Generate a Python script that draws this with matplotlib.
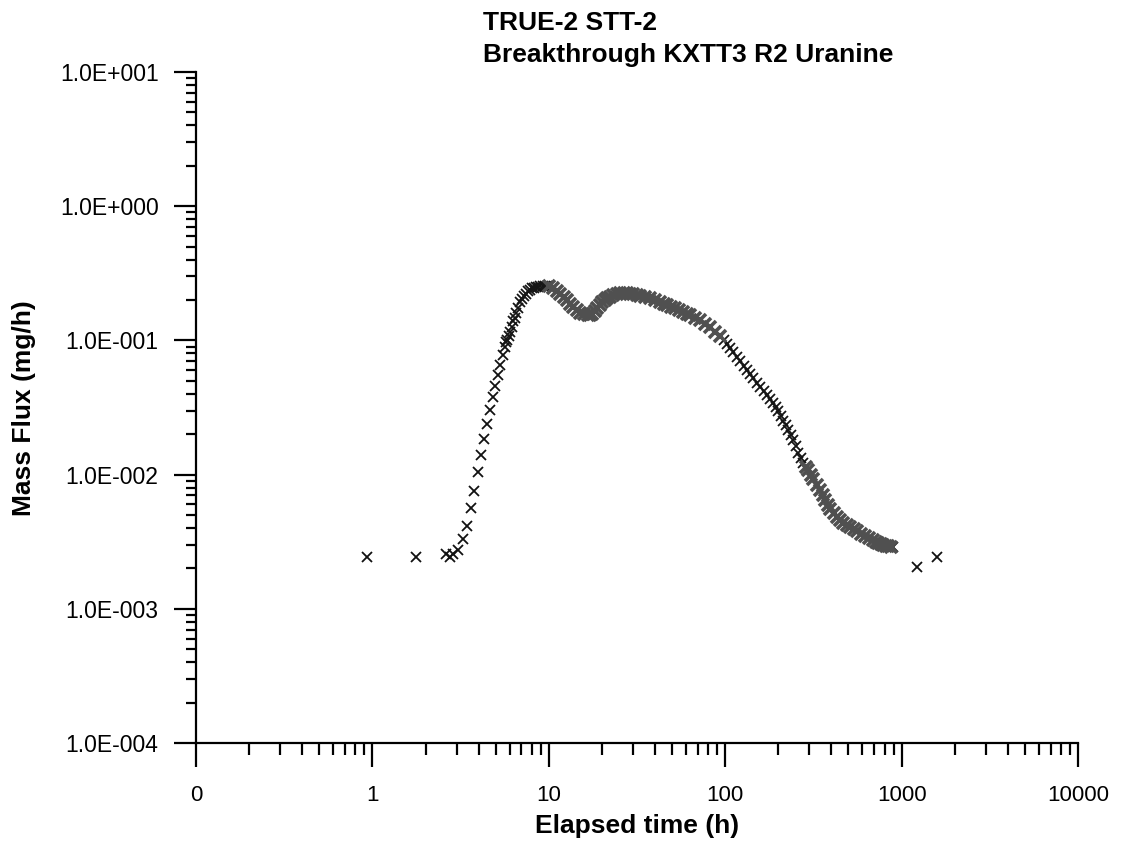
import matplotlib
matplotlib.use("Agg")
import matplotlib.pyplot as plt
from matplotlib.ticker import FixedLocator, FixedFormatter, LogLocator, NullFormatter
import numpy as np

plt.rcParams['font.family'] = ['Liberation Sans', 'DejaVu Sans']

# Elapsed time (h) -- main readings
time_h = [0.937, 1.775, 2.63, 2.77, 2.88, 3.07, 3.28, 3.45, 3.64, 3.78, 3.99,
          4.15, 4.31, 4.48, 4.66, 4.85, 4.98, 5.17, 5.31, 5.52, 5.67,
          5.82, 6.05, 6.29, 6.54, 6.90, 7.26, 7.65, 8.06, 8.50, 8.95, 9.55,
          10.07, 10.60, 11.62, 12.73, 13.77, 15.09, 16.74, 17.64, 18.83,
          20.10, 21.45, 23.20, 25.42, 27.86, 30.12, 33.0, 37.6, 42.8, 46.9,
          52.1, 57.8, 63.3, 72.2, 82.2, 93.7, 102.6, 111.0, 121.6, 133.2,
          144.1, 157.9, 173.0, 187.1, 199.7, 213.1, 227.5, 242.8, 259.3,
          276.7, 295.3, 315.2, 345.3, 368.6, 393.5, 431.0, 466.3, 510.8,
          559.7, 621.2, 689.7, 736.1, 785.7, 838.6, 895.0, 1224.0, 1589.0]
# Mass flux (mg/h) -- main readings
flux = [0.00243, 0.00243, 0.00254, 0.00243, 0.00254, 0.00272, 0.00329, 0.00411,
        0.0056, 0.0076, 0.0104, 0.0141, 0.0183, 0.0237, 0.0301, 0.0376, 0.0454,
        0.0548, 0.0651, 0.0773, 0.0887,
        0.1000, 0.1147, 0.1385, 0.1590, 0.1919, 0.2127, 0.2318, 0.2441, 0.2483,
        0.2526, 0.2526,
        0.2526, 0.2441, 0.2202, 0.1987, 0.1762, 0.1590, 0.1536, 0.1561, 0.1732,
        0.1919, 0.2056, 0.2164, 0.2240, 0.2240, 0.2202, 0.2127, 0.2056, 0.1919,
        0.1823, 0.1732, 0.1617, 0.1536, 0.1409, 0.1250, 0.1071, 0.0934, 0.0814,
        0.0698, 0.0598, 0.0521, 0.0446, 0.0389, 0.0339, 0.0296, 0.0253, 0.0214,
        0.0180, 0.0146, 0.0121, 0.01075, 0.00921, 0.00762, 0.00642, 0.00550,
        0.00480, 0.00433, 0.00404, 0.00377, 0.00346, 0.00323, 0.00307, 0.00297,
        0.00292, 0.00287, 0.00205, 0.00242]

# Additional readings in the densely sampled part of the curve
time_h_dense = [5.75, 5.93, 6.17, 6.42, 6.72, 7.08, 7.45, 7.85, 8.28, 8.72, 9.25, 9.8,
                11.10, 12.16, 13.24, 14.41, 15.89, 17.18, 18.22, 19.45, 20.76,
                22.31, 24.28, 26.61, 28.96, 31.51, 35.22, 40.13, 44.83, 49.44,
                54.89, 60.52, 67.61, 77.02, 87.78,
                98.1, 106.7, 116.2, 127.3, 138.6, 150.8, 165.2, 179.9, 193.2,
                206.3, 220.2, 235.0, 250.9, 267.8,
                285.8, 305.1, 329.9, 356.8, 380.8, 411.9, 448.4, 487.9, 534.6,
                589.6, 654.5, 712.4, 760.3, 811.6, 866.5]
flux_dense = [0.0966, 0.107, 0.126, 0.148, 0.175, 0.202, 0.222, 0.238, 0.246,
              0.250, 0.2526, 0.2526,
              0.2318, 0.2091, 0.1871, 0.1673, 0.1561, 0.1549, 0.1645, 0.1823,
              0.1987, 0.2109, 0.2202, 0.2240, 0.2221, 0.2164, 0.2091, 0.1987,
              0.1871, 0.1777, 0.1673, 0.1576, 0.1471, 0.1327, 0.1157,
              0.1000, 0.0872, 0.0753, 0.0646, 0.0558, 0.0482, 0.0417, 0.0363,
              0.0317, 0.0274, 0.0233, 0.0196, 0.0162, 0.0133,
              0.01141, 0.00995, 0.00838, 0.00700, 0.00594, 0.00514, 0.00456,
              0.00418, 0.00390, 0.00361, 0.00335, 0.00315, 0.00302, 0.00294,
              0.00289]

x_ticks = [0.1, 1, 10, 100, 1000, 10000]
x_tick_labels = ["0", "1", "10", "100", "1000", "10000"]
y_ticks = [1e-4, 1e-3, 1e-2, 1e-1, 1e0, 1e1]
y_tick_labels = ["1.0E-004", "1.0E-003", "1.0E-002", "1.0E-001", "1.0E+000", "1.0E+001"]

title_lines = ["TRUE-2 STT-2", "Breakthrough KXTT3 R2 Uranine"]
x_label = "Elapsed time (h)"
y_label = "Mass Flux (mg/h)"

W, H = 1125, 844
fig = plt.figure(figsize=(W / 100, H / 100), dpi=100)
ax = fig.add_axes([196 / W, 1 - 743 / H, (1078 - 196) / W, (743 - 72) / H])

t = np.array(time_h + time_h_dense)
f = np.array(flux + flux_dense)
order = np.argsort(t)
t, f = t[order], f[order]

gray = ((t > 9.9) & (t < 95)) | ((t > 280) & (t < 880))
black_dense = (t >= 5.7) & ~gray & (t < 900)
sparse = ~gray & ~black_dense

ax.plot(t[sparse], f[sparse], linestyle='none', marker='x', color='#111111',
        markersize=6.5, markeredgewidth=1.3)
ax.plot(t[black_dense], f[black_dense], linestyle='none', marker='x', color='#151515',
        markersize=7.5, markeredgewidth=1.3)
ax.plot(t[gray], f[gray], linestyle='none', marker='x', color='#505050',
        markersize=8.5, markeredgewidth=2.6)

ax.set_xscale('log')
ax.set_yscale('log')
ax.set_xlim(0.1, 10000)
ax.set_ylim(1e-4, 10)

ax.xaxis.set_major_locator(FixedLocator(x_ticks))
ax.xaxis.set_major_formatter(FixedFormatter(x_tick_labels))
ax.yaxis.set_major_locator(FixedLocator(y_ticks))
ax.yaxis.set_major_formatter(FixedFormatter(y_tick_labels))
ax.xaxis.set_minor_locator(LogLocator(base=10, subs=np.arange(2, 10)))
ax.yaxis.set_minor_locator(LogLocator(base=10, subs=np.arange(2, 10)))
ax.xaxis.set_minor_formatter(NullFormatter())
ax.yaxis.set_minor_formatter(NullFormatter())

for s in ['top', 'right']:
    ax.spines[s].set_visible(False)
for s in ['left', 'bottom']:
    ax.spines[s].set_linewidth(1.6)
    ax.spines[s].set_color('black')

ax.tick_params(axis='x', which='major', direction='out', length=17, width=1.6,
               pad=13, labelsize=16)
ax.tick_params(axis='x', which='minor', direction='out', length=8.5, width=1.6)
ax.tick_params(axis='y', which='major', direction='out', length=16, width=1.6,
               pad=11, labelsize=16.5)
ax.tick_params(axis='y', which='minor', direction='out', length=7.5, width=1.6)

fig.text(483 / W, 1 - 30 / H, title_lines[0], ha='left', va='baseline',
         fontsize=19, fontweight='bold')
fig.text(483 / W, 1 - 62 / H, title_lines[1], ha='left', va='baseline',
         fontsize=19, fontweight='bold')
fig.text(637 / W, 1 - 833 / H, x_label, ha='center', va='baseline',
         fontsize=19, fontweight='bold')
fig.text(24 / W, 1 - 408 / H, y_label, ha='center', va='center', rotation=90,
         fontsize=19, fontweight='bold')

fig.savefig("out.png", dpi=100)
